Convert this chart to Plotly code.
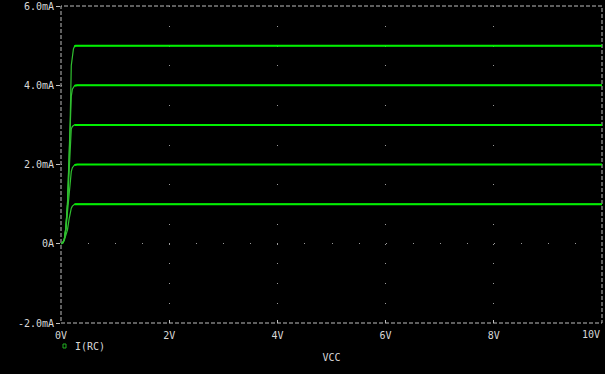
import plotly.graph_objects as go

# Sweep voltage (V) and collector currents (mA) for five base-current steps
vcc = [0, 0.03, 0.06, 0.09, 0.12, 0.15, 0.17, 0.19, 0.21, 0.23, 0.25, 0.27, 0.30, 10]
ic_1 = [0, 0.02, 0.08, 0.20, 0.35, 0.63, 0.78, 0.90, 0.95, 0.98, 0.995, 1.0, 1.0, 1.0]
ic_2 = [0, 0.02, 0.10, 0.35, 0.80, 1.30, 1.60, 1.82, 1.92, 1.97, 1.99, 2.0, 2.0, 2.0]
ic_3 = [0, 0.02, 0.10, 0.40, 1.00, 1.90, 2.65, 2.90, 2.96, 2.99, 3.0, 3.0, 3.0, 3.0]
ic_4 = [0, 0.02, 0.10, 0.40, 1.00, 2.00, 3.00, 3.72, 3.90, 3.96, 3.99, 4.0, 4.0, 4.0]
ic_5 = [0, 0.02, 0.10, 0.40, 1.00, 2.00, 3.10, 4.50, 4.75, 4.92, 4.98, 5.0, 5.0, 5.0]
curves = [ic_1, ic_2, ic_3, ic_4, ic_5]
knee_index = 11  # from here on the traces are flat (drawn thicker)

x_ticks = [0, 2, 4, 6, 8, 10]
x_tick_text = ["0V", "2V", "4V", "6V", "8V", "10V"]
y_ticks = [-2, 0, 2, 4, 6]
y_tick_text = ["-2.0mA", "0A", "2.0mA", "4.0mA", "6.0mA"]
x_title = "VCC"
legend_text = "I(RC)"

GREEN = "#00f000"
DIM_GREEN = "#30c030"
TXT = "#d8d8d8"
FRAME = "#bdbdbd"
FONT = "DejaVu Sans Mono"

fig = go.Figure()
for ic in curves:
    fig.add_trace(go.Scatter(x=vcc, y=ic, mode="lines",
                             line=dict(color=DIM_GREEN, width=1.2),
                             showlegend=False, hoverinfo="skip"))
    fig.add_trace(go.Scatter(x=vcc[knee_index - 1:], y=ic[knee_index - 1:], mode="lines",
                             line=dict(color=GREEN, width=2),
                             showlegend=False, hoverinfo="skip"))

L, R, T, B = 61, 3, 6, 51
W, H = 605, 374
ph = H - T - B

# the last x label sits left of its tick so it stays inside the window
shown_x_text = x_tick_text[:-1] + [""]

fig.update_layout(
    width=W, height=H,
    margin=dict(l=L, r=R, t=T, b=B, pad=0),
    paper_bgcolor="#000000", plot_bgcolor="#000000",
    font=dict(family=FONT, size=10, color=TXT),
    showlegend=False,
    xaxis=dict(range=[0, 10], tickvals=x_ticks, ticktext=shown_x_text,
               showgrid=True, gridcolor="#9a9a9a", gridwidth=1, griddash="1px,18.8px",
               zeroline=False, showline=False, automargin=False,
               ticks="inside", ticklen=3, tickcolor=FRAME, tickwidth=1,
               ticklabelstandoff=5, ticklabeloverflow="allow",
               tickfont=dict(family=FONT, size=10, color=TXT),
               title=dict(text=x_title, font=dict(family=FONT, size=10, color=TXT), standoff=13),
               fixedrange=True),
    yaxis=dict(range=[-2, 6], tickvals=y_ticks, ticktext=y_tick_text,
               showgrid=True, gridcolor="#9a9a9a", gridwidth=1, griddash="1px,26.05px",
               zeroline=False, showline=False, automargin=False,
               ticks="outside", ticklen=4, tickcolor=FRAME, tickwidth=1,
               ticklabeloverflow="allow",
               tickfont=dict(family=FONT, size=10, color=TXT),
               fixedrange=True),
)

fig.add_annotation(xref="x", yref="paper", x=x_ticks[-1], y=0, yshift=-11,
                   text=x_tick_text[-1], showarrow=False, xanchor="right", yanchor="middle",
                   font=dict(family=FONT, size=10, color=TXT))

# dashed frame
fig.add_shape(type="rect", xref="paper", yref="paper", x0=0, x1=1, y0=0, y1=1,
              line=dict(color=FRAME, width=1, dash="4px,2px"), layer="below")

# legend marker + text
ly = -(346 - (H - B)) / ph
fig.add_shape(type="rect", xref="paper", yref="paper",
              xsizemode="pixel", ysizemode="pixel", xanchor=0, yanchor=ly,
              x0=2, x1=5, y0=-2, y1=2, line=dict(color="#20b020", width=1))
fig.add_annotation(xref="paper", yref="paper", x=0, y=ly, xshift=12,
                   text=legend_text, showarrow=False, xanchor="left", yanchor="middle",
                   font=dict(family=FONT, size=10, color=TXT))

fig.write_html("out.html")
